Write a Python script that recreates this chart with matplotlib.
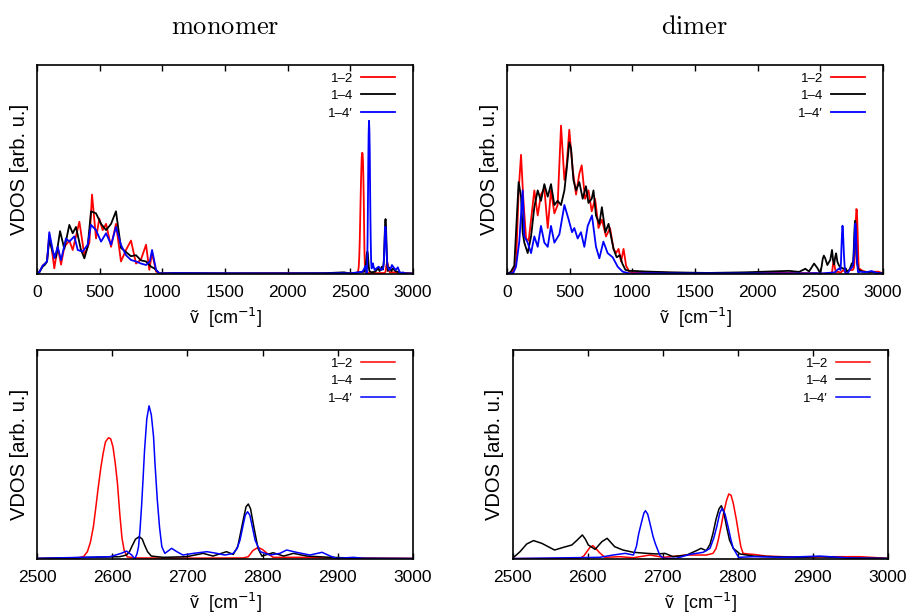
import matplotlib
matplotlib.use("Agg")
import matplotlib.pyplot as plt

plt.rcParams['font.family'] = ['Liberation Sans', 'DejaVu Sans']

# legend labels and colours
labels = ["1–2", "1–4", "1–4′"]
colors = ["#ff0000", "#000000", "#0000ff"]

# monomer, low frequency part (0-1000 cm^-1)
mono_red_lo_x = [0, 20, 45, 64, 80, 98, 118, 138, 165, 192, 218, 258, 285, 338, 378, 418, 439, 471, 497,
                 524, 551, 591, 630, 670, 710, 750, 790, 830, 870, 896, 918, 950, 976, 1000]
mono_red_lo_y = [0, .01, .04, .05, .06, .19, .12, .027, .13, .045, .13, .16, .115, .25, .09, .15, .38, .17, .265,
                 .21, .24, .13, .24, .06, .115, .16, .05, .07, .14, .02, .10, .012, .003, .003]
mono_blk_lo_x = [0, 20, 45, 64, 80, 98, 125, 152, 184, 218, 258, 285, 311, 351, 378, 404, 431, 471, 511,
                 551, 591, 630, 670, 710, 750, 790, 830, 870, 910, 936, 976, 1000]
mono_blk_lo_y = [0, .01, .035, .045, .06, .165, .105, .08, .205, .12, .235, .195, .225, .115, .075, .13, .30, .29, .24,
                 .21, .24, .30, .125, .105, .085, .09, .065, .06, .035, .027, .003, .003]
mono_blu_lo_x = [0, 20, 45, 64, 80, 98, 138, 165, 192, 231, 258, 298, 325, 364, 404, 431, 471, 511, 551,
                 591, 630, 670, 710, 750, 790, 830, 870, 900, 918, 950, 976, 1000]
mono_blu_lo_y = [0, .01, .04, .05, .06, .20, .075, .13, .067, .17, .155, .18, .115, .107, .14, .235, .21, .155, .195,
                 .14, .225, .14, .09, .067, .06, .05, .043, .06, .115, .02, .003, .003]

# monomer, middle part
mono_mid_x = [1100, 1500, 2000, 2300, 2450]
mono_red_mid_y = [.004, .003, .004, .003, .004]
mono_blk_mid_y = [.004, .003, .003, .004, .008]
mono_blu_mid_y = [.004, .003, .003, .003, .004]

# monomer, 2500-3000 cm^-1
mono_red_hi_x = [2500, 2555, 2562, 2567, 2571, 2575, 2578, 2581, 2585, 2588, 2591, 2595, 2598, 2601, 2604,
                 2607, 2610, 2613, 2616, 2620, 2632, 2700, 2774, 2781, 2787, 2794, 2800, 2806, 2814, 2850,
                 2900, 3000]
mono_red_hi_y = [.003, .005, .012, .035, .08, .155, .24, .33, .44, .506, .56, .58, .575, .537, .46,
                 .362, .22, .1, .04, .01, .005, .004, .005, .011, .04, .056, .045, .027, .008, .008,
                 .005, .003]
mono_blk_hi_x = [2500, 2610, 2619, 2623, 2626, 2631, 2636, 2640, 2643, 2647, 2652, 2668, 2699, 2721, 2734,
                 2752, 2761, 2767, 2771, 2775, 2778, 2781, 2784, 2787, 2790, 2794, 2799, 2814, 2828, 2841,
                 2859, 2890, 2934, 3000]
mono_blk_hi_y = [.002, .011, .019, .035, .059, .095, .107, .095, .067, .035, .014, .008, .011, .027, .014,
                 .035, .022, .06, .13, .2, .25, .263, .24, .18, .123, .05, .014, .030, .014, .027,
                 .014, .008, .003, .002]
mono_blu_hi_x = [2500, 2597, 2612, 2619, 2626, 2630, 2633, 2635, 2637, 2639, 2641, 2643, 2646, 2649, 2652,
                 2655, 2657, 2660, 2663, 2666, 2670, 2675, 2679, 2686, 2694, 2708, 2726, 2739, 2750, 2761,
                 2766, 2770, 2774, 2777, 2780, 2783, 2786, 2790, 2797, 2810, 2823, 2832, 2845, 2863, 2879,
                 2890, 2899, 2921, 2934, 3000]
mono_blu_hi_y = [.003, .011, .027, .038, .019, 0, .025, .059, .14, .25, .38, .52, .67, .733, .69,
                 .585, .45, .282, .15, .059, .027, .04, .051, .035, .019, .027, .035, .027, .019, .027,
                 .05, .091, .16, .21, .226, .21, .16, .09, .035, .019, .027, .043, .032, .019, .032,
                 .014, .003, .008, .003, .002]

# dimer, low frequency part
dim_red_lo_x = [0, 40, 72, 93, 112, 130, 152, 173, 192, 218, 245, 271, 298, 325, 351, 378, 404, 431, 458,
                476, 497, 524, 551, 577, 596, 623, 650, 676, 703, 730, 757, 790, 822, 850, 870, 890, 910,
                930, 950, 975, 1000]
dim_red_lo_y = [0, .005, .05, .40, .57, .36, .17, .16, .26, .40, .28, .38, .41, .22, .40, .29, .33, .71, .45,
                .52, .69, .50, .38, .48, .52, .36, .40, .30, .36, .22, .26, .18, .22, .12, .10, .12, .06,
                .12, .04, .012, .006]
dim_blk_lo_x = [0, 30, 58, 93, 112, 125, 138, 165, 192, 218, 245, 271, 298, 325, 351, 378, 404, 431, 458,
                476, 497, 511, 530, 551, 577, 604, 630, 650, 676, 690, 710, 737, 757, 785, 810, 830, 850,
                875, 900, 920, 945, 975, 1000]
dim_blk_lo_y = [0, .01, .04, .44, .37, .20, .15, .10, .18, .32, .40, .35, .43, .37, .43, .33, .35, .33, .40,
                .50, .63, .60, .45, .40, .44, .36, .42, .34, .36, .40, .28, .24, .32, .20, .24, .18, .12,
                .08, .09, .05, .02, .015, .015]
dim_blu_lo_x = [0, 50, 72, 98, 125, 138, 165, 192, 218, 245, 271, 298, 325, 351, 378, 418, 458, 492, 519,
                537, 564, 590, 617, 644, 678, 710, 737, 769, 803, 843, 883, 923, 976, 1000]
dim_blu_lo_y = [0, .005, .035, .155, .40, .18, .15, .10, .18, .13, .23, .15, .13, .23, .15, .19, .33, .26, .20,
                .22, .17, .20, .13, .23, .28, .13, .075, .155, .10, .08, .035, .011, .003, .002]

# dimer, middle part
dim_mid_x = [1100, 1300, 1600, 1900, 2100, 2250, 2330, 2380, 2410, 2450, 2475]
dim_red_mid_y = [.01, .006, .004, .004, .005, .005, .004, .004, .004, .004, .004]
dim_blk_mid_y = [.012, .008, .005, .008, .012, .015, .01, .025, .012, .05, .03]
dim_blu_mid_y = [.004, .003, .003, .003, .003, .003, .003, .003, .003, .004, .004]

# dimer, 2500-3000 cm^-1
dim_red_hi_x = [2500, 2590, 2595, 2599, 2603, 2607, 2611, 2616, 2623, 2643, 2661, 2683, 2701, 2732, 2758,
                2767, 2771, 2774, 2778, 2781, 2785, 2788, 2791, 2794, 2798, 2801, 2804, 2807, 2814, 2821,
                2838, 2883, 2927, 2963, 3000]
dim_red_hi_y = [.002, .003, .015, .035, .055, .064, .05, .030, .008, .011, .006, .019, .008, .019, .019,
                .027, .05, .091, .16, .218, .28, .311, .305, .266, .19, .123, .06, .027, .024, .022,
                .014, .008, .011, .011, .003]
dim_blk_hi_x = [2500, 2510, 2519, 2528, 2539, 2556, 2568, 2579, 2586, 2593, 2597, 2601, 2610, 2619, 2626,
                2636, 2647, 2661, 2679, 2692, 2703, 2714, 2732, 2745, 2751, 2758, 2763, 2767, 2771, 2775,
                2778, 2781, 2785, 2789, 2794, 2803, 2821, 2847, 2883, 2909, 2949, 3000]
dim_blk_hi_y = [.003, .035, .072, .088, .075, .043, .056, .067, .09, .115, .095, .067, .046, .083, .099,
                .059, .043, .032, .027, .024, .027, .011, .019, .040, .051, .040, .07, .123, .19, .24,
                .255, .23, .155, .09, .051, .024, .014, .011, .008, .011, .005, .003]
dim_blu_hi_x = [2500, 2616, 2634, 2650, 2661, 2665, 2668, 2672, 2675, 2677, 2680, 2683, 2687, 2690, 2696,
                2701, 2718, 2736, 2754, 2763, 2768, 2772, 2776, 2779, 2783, 2787, 2791, 2794, 2801, 2821,
                2861, 2909, 2949, 3000]
dim_blu_hi_y = [.002, .008, .019, .027, .019, .06, .12, .179, .22, .231, .215, .171, .11, .075, .019,
                .003, .003, .022, .032, .051, .1, .155, .22, .242, .215, .155, .09, .051, .008, .011,
                .008, .014, .005, .002]

fig = plt.figure(figsize=(9.07, 6.16), dpi=100)
ax_tl = fig.add_axes([37/907, 1-274/616, 376/907, 209/616])
ax_tr = fig.add_axes([507/907, 1-274/616, 376/907, 209/616])
ax_bl = fig.add_axes([37/907, 1-559/616, 376/907, 209/616])
ax_br = fig.add_axes([512.5/907, 1-559/616, 375.5/907, 209/616])

mono_full = [
    (mono_red_lo_x + mono_mid_x + mono_red_hi_x, mono_red_lo_y + mono_red_mid_y + mono_red_hi_y),
    (mono_blk_lo_x + mono_mid_x + mono_blk_hi_x, mono_blk_lo_y + mono_blk_mid_y + mono_blk_hi_y),
    (mono_blu_lo_x + mono_mid_x + mono_blu_hi_x, mono_blu_lo_y + mono_blu_mid_y + mono_blu_hi_y),
]
dim_full = [
    (dim_red_lo_x + dim_mid_x + dim_red_hi_x, dim_red_lo_y + dim_red_mid_y + dim_red_hi_y),
    (dim_blk_lo_x + dim_mid_x + dim_blk_hi_x, dim_blk_lo_y + dim_blk_mid_y + dim_blk_hi_y),
    (dim_blu_lo_x + dim_mid_x + dim_blu_hi_x, dim_blu_lo_y + dim_blu_mid_y + dim_blu_hi_y),
]
mono_zoom = [(mono_red_hi_x, mono_red_hi_y), (mono_blk_hi_x, mono_blk_hi_y), (mono_blu_hi_x, mono_blu_hi_y)]
dim_zoom = [(dim_red_hi_x, dim_red_hi_y), (dim_blk_hi_x, dim_blk_hi_y), (dim_blu_hi_x, dim_blu_hi_y)]

panels = [(ax_tl, mono_full, 0, 3000, 500, 1.3),
          (ax_tr, dim_full, 0, 3000, 500, 1.3),
          (ax_bl, mono_zoom, 2500, 3000, 100, 1.1),
          (ax_br, dim_zoom, 2500, 3000, 100, 1.1)]

for ax, series, x0, x1, step, lw in panels:
    for (xs, ys), lab, col in zip(series, labels, colors):
        ax.plot(xs, ys, color=col, lw=lw, label=lab, solid_joinstyle='round')
    ax.set_xlim(x0, x1)
    ax.set_ylim(0, 1)
    ax.set_xticks(range(x0, x1 + 1, step))
    ax.set_yticks([])
    ax.tick_params(axis='x', direction='in', top=True, length=4, width=1, pad=8, labelsize=12.5)
    for s in ax.spines.values():
        s.set_linewidth(1.2)
    ax.set_xlabel('ṽ  [cm$^{-1}$]', fontsize=13, labelpad=4)
    ax.set_ylabel('VDOS [arb. u.]', fontsize=14.5, labelpad=6)
    ax.legend(loc='upper right', bbox_to_anchor=(0.966, 0.99), borderaxespad=0,
              frameon=False, markerfirst=False, fontsize=9.5,
              handlelength=2.6, handletextpad=0.6, labelspacing=0.4)

ax_tl.set_title(r'$\mathrm{monomer}$', fontsize=19, pad=22, math_fontfamily='cm')
ax_tr.set_title(r'$\mathrm{dimer}$', fontsize=19, pad=22, math_fontfamily='cm')

fig.savefig("out.png", dpi=100)
